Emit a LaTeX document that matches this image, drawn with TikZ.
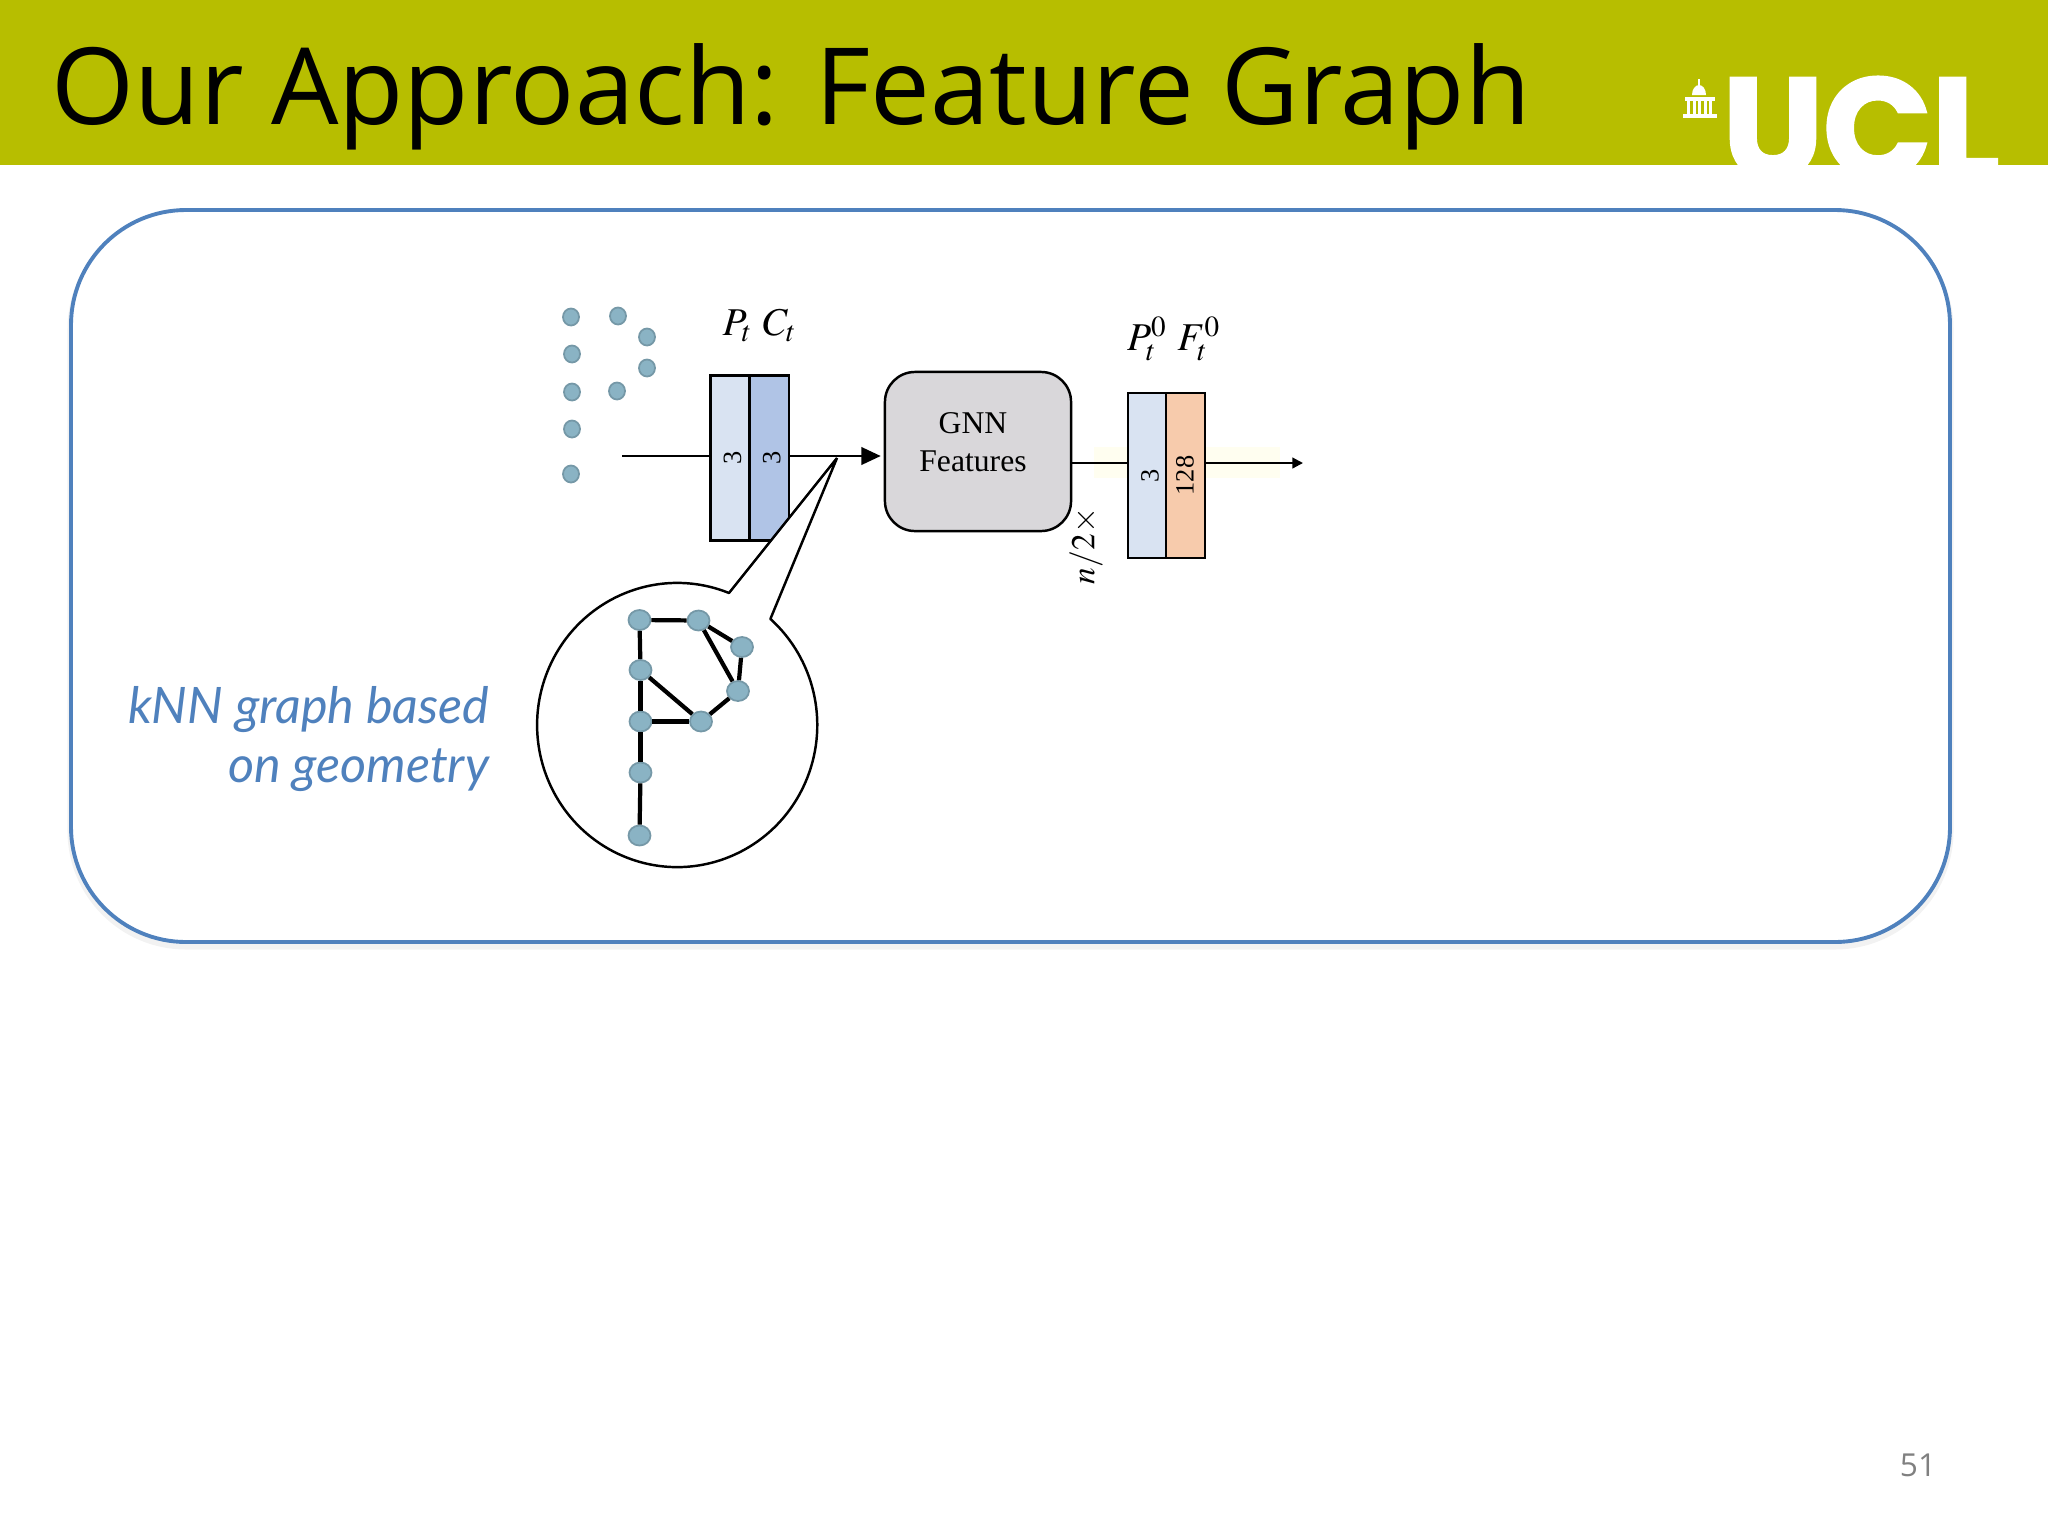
\documentclass[tikz,border=0pt]{standalone}
\usepackage{mathptmx}
\usepackage[no-math]{fontspec}
\setmainfont{Liberation Serif}
\newfontfamily\titlefont{Open Sans}
\newfontfamily\handfont{Lato}
\newfontfamily\logofont[FakeBold=2]{Poppins}
\usetikzlibrary{arrows.meta}
\usetikzlibrary{shapes.geometric}
\definecolor{uclgreen}{HTML}{B7BE00}
\definecolor{panelblue}{HTML}{4F81BD}
\definecolor{pointblue}{HTML}{8AB3C4}
\definecolor{posblue}{HTML}{D9E3F2}
\definecolor{colblue}{HTML}{B0C4E6}
\definecolor{featorange}{HTML}{F7CBAC}
\definecolor{gnngray}{HTML}{D9D7DA}
\tikzset{
	point/.style={
		draw=pointblue!85!black,
		fill=pointblue,
		ellipse,
		line width=0.5pt,
		inner sep=0pt,
	},
	smallpoint/.style={
		point,
		minimum width=.16cm,
		minimum height=.17cm,
	},
	graphpoint/.style={
		point,
		minimum width=.22cm,
		minimum height=.2cm,
	},
	block/.style={
		draw,
		rectangle,
		line width=0.7pt,
		inner sep=0pt,
		minimum height=.39cm,
		minimum width=1.65cm,
		rotate=90,
		text height=6.4pt,
		font=\fontsize{7.5}{7.5}\selectfont,
	},
	flow/.style={
		line width=0.6pt,
	},
	tip/.style={
		flow,
		-{Triangle[length=5.5pt,width=5pt]},
	},
	smalltip/.style={
		flow,
		-{Triangle[length=3pt,width=3pt]},
	},
	edge/.style={
		line width=1.2pt,
	},
}
\begin{document}
\begin{tikzpicture}[x=.01cm,y=-.01cm]
	\useasboundingbox (0,0) rectangle (2048,1536);

	\fill[uclgreen] (0,0) rectangle (2048,164.5);
	\node[anchor=base west,inner sep=0pt,font=\titlefont\fontsize{30.3}{32}\selectfont] (title) at (51,124) {Our Approach: Feature Graph};

	% logo
	\node[anchor=base west,inner sep=0pt,text=white,font=\logofont\bfseries\fontsize{40.5}{41}\selectfont] (logo) at (1722,178) {UCL};
	\fill[white] (1683,114) rectangle (1717,118);
	\fill[white] (1685,97) rectangle (1715,101);
	\foreach \x in {1687,1692.5,1698,1703.5,1709} {
		\fill[white] (\x,101) rectangle ++(3,13);
	}
	\fill[white] (1692,95) arc[start angle=180,end angle=0,x radius=.07cm,y radius=.1cm] -- cycle;
	\fill[white] (1698,79) rectangle (1700,86);

	% panel
	\draw[black!5,line width=2pt,rounded corners=1.15cm] (71,214) rectangle (1950,946);
	\draw[panelblue,line width=1.1pt,fill=white,rounded corners=1.15cm] (71,210) rectangle (1950,942);

	\fill[yellow!6] (1094,447) rectangle (1280,478);

	\node[smallpoint] (D1) at (571,317) {};
	\node[smallpoint] (D2) at (618,316) {};
	\node[smallpoint] (D3) at (647,337) {};
	\node[smallpoint] (D4) at (647,368) {};
	\node[smallpoint] (D5) at (572,354) {};
	\node[smallpoint] (D6) at (572,392) {};
	\node[smallpoint] (D7) at (617,391) {};
	\node[smallpoint] (D8) at (572,429) {};
	\node[smallpoint] (D9) at (571,474) {};

	\node[block,fill=posblue] (Pt) at (730,458) {3};
	\node[block,fill=colblue] (Ct) at (769.3,458) {3};

	\node[draw,rectangle,rounded corners=.3cm,line width=0.7pt,fill=gnngray,
		minimum width=1.86cm,minimum height=1.59cm] (GNN) at (978,451.5) {};
	\node[align=center,font=\fontsize{9}{10.8}\selectfont] (GNNtext) at (973,442) {GNN\\Features};

	\node[block,fill=posblue] (P0) at (1147.5,475.5) {3};
	\node[block,fill=featorange,text height=4.7pt] (F0) at (1185.5,475.5) {128};

	\coordinate (in) at (622,456);
	\coordinate (out) at (1303,463);
	\draw[flow] (in) -- (Pt.north |- in);
	\draw[tip,shorten >=.03cm] (Ct.south |- in) -- (GNN.west |- in);
	\draw[flow] (GNN.east |- out) -- (P0.north |- out);
	\draw[smalltip] (F0.south |- out) -- (out);

	\node[font=\fontsize{11.2}{11}\selectfont] (ptct) at (760,325) {$P_t\ C_t$};
	\node[font=\fontsize{11.2}{11}\selectfont] (p0f0) at (1174,339) {$P_t^0\ F_t^0$};
	\node[rotate=90,font=\fontsize{9.5}{10}\selectfont] (times) at (1086,546) {$n/2\times$};

	% zoom bubble
	\coordinate (tipc) at (837,458);
	\draw[line width=0.7pt,line join=bevel,fill=white] (729,593) arc[start angle=68.3,end angle=408.3,x radius=1.4cm,y radius=1.42cm] -- (tipc) -- cycle;

	\node[graphpoint] (V1) at (639.5,620) {};
	\node[graphpoint] (V2) at (698.5,620.5) {};
	\node[graphpoint] (V3) at (742,647) {};
	\node[graphpoint] (V4) at (738,691) {};
	\node[graphpoint] (V5) at (701,721.5) {};
	\node[graphpoint] (V6) at (640.5,721.5) {};
	\node[graphpoint] (V7) at (640.5,670) {};
	\node[graphpoint] (V8) at (640.5,772.5) {};
	\node[graphpoint] (V9) at (639.5,835.5) {};

	\foreach \a/\b in {V1/V2,V1/V7,V7/V6,V6/V8,V8/V9,V6/V5,V7/V5,V5/V4,V2/V4,V2/V3,V3/V4} {
		\draw[edge] (\a) -- (\b);
	}

	\node[anchor=east,align=right,text=panelblue,font=\handfont\itshape\fontsize{14.3}{17}\selectfont] (knn) at (501.5,739) {kNN graph based\\on geometry};

	\node[text=black!50,font=\titlefont\fontsize{9}{10}\selectfont] (num) at (1918,1465) {51};
\end{tikzpicture}
\end{document}
